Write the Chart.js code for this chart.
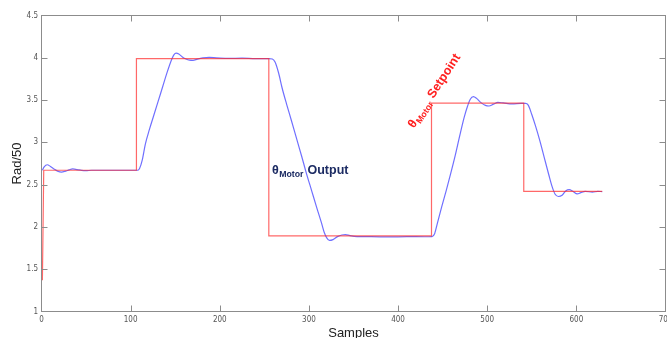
<!DOCTYPE html>
<html>
<head>
<meta charset="utf-8">
<script src="https://cdn.jsdelivr.net/npm/chart.js@4"></script>
<style>
  html, body { margin: 0; padding: 0; background: #fff; }
</style>
</head>
<body>
<canvas id="grafico" width="667" height="338"></canvas>
<script>
// setpoint (red, step signal)
const setpointX = [1, 2.5, 106.5, 106.5, 255, 255, 437.5, 437.5, 541, 541, 629];
const setpointY = [1.37, 2.67, 2.67, 3.99, 3.99, 1.895, 1.895, 3.465, 3.465, 2.42, 2.42];

// motor output (blue)
const outputX = [1, 3, 6.5, 10, 14, 18, 22.5, 27, 31, 35, 40, 45, 50, 56, 70, 90, 108,
  110, 113, 116.5, 121, 126, 131, 136, 141, 146, 148.5, 151, 154, 158, 162, 166, 170, 175,
  181, 188, 196, 210, 225, 240, 255, 259, 262, 266, 270, 275, 280, 286, 292, 297, 303, 309,
  314, 317, 320, 323, 327, 332, 337, 341, 346, 354, 370, 390, 410, 430, 438, 441, 444, 449,
  454, 459, 464, 469, 474, 478, 481, 484.5, 488, 493, 498, 502, 507, 512, 518, 528, 538, 543,
  546, 550, 554, 559, 564, 569, 573, 576, 580, 584, 588, 592, 596, 601, 605, 610, 618, 624, 629];
const outputY = [2.67, 2.71, 2.735, 2.715, 2.685, 2.66, 2.648, 2.66, 2.675, 2.686, 2.678, 2.668, 2.665, 2.67, 2.67, 2.67, 2.67,
  2.69, 2.79, 2.98, 3.15, 3.32, 3.49, 3.66, 3.83, 3.98, 4.035, 4.055, 4.045, 4.01, 3.985, 3.972, 3.97, 3.985,
  3.998, 4.005, 4.0, 3.992, 3.995, 3.99, 3.99, 3.985, 3.95, 3.82, 3.64, 3.45, 3.27, 3.05, 2.83, 2.64, 2.43, 2.22,
  2.05, 1.94, 1.87, 1.84, 1.85, 1.885, 1.905, 1.91, 1.897, 1.886, 1.885, 1.882, 1.885, 1.884, 1.886, 1.92, 2.04, 2.24,
  2.43, 2.63, 2.84, 3.07, 3.29, 3.43, 3.51, 3.54, 3.52, 3.47, 3.437, 3.43, 3.452, 3.472, 3.466, 3.455, 3.46, 3.46,
  3.44, 3.33, 3.2, 3.02, 2.82, 2.62, 2.47, 2.39, 2.36, 2.375, 2.425, 2.44, 2.422, 2.39, 2.405, 2.42, 2.412, 2.42, 2.418];

const xTicks = [0, 100, 200, 300, 400, 500, 600, 700];
const yTicks = [1, 1.5, 2, 2.5, 3, 3.5, 4, 4.5];

const tickFont = { family: "'Liberation Sans Narrow', 'DejaVu Sans Condensed', 'Liberation Sans', sans-serif", size: 8 };
const titleFont = { family: "'Liberation Sans', Arial, sans-serif", size: 13 };
const labelFamily = "'Liberation Sans', Arial, sans-serif";

function toPoints(xs, ys) {
  return xs.map((x, i) => ({ x: x, y: ys[i] }));
}

// draws "θ" + subscript "Motor" + a word
function thetaLabel(ctx, word, size) {
  ctx.textBaseline = 'alphabetic';
  ctx.textAlign = 'left';
  ctx.font = 'bold ' + size + 'px ' + labelFamily;
  ctx.fillText('θ', 0, 0);
  let w = ctx.measureText('θ').width;
  ctx.font = 'bold ' + (size * 0.7) + 'px ' + labelFamily;
  ctx.fillText('Motor', w + 0.5, 3);
  w += ctx.measureText('Motor').width + 4.5;
  ctx.font = 'bold ' + size + 'px ' + labelFamily;
  ctx.fillText(word, w, 0);
}

const frame = {
  id: 'frame',
  afterDatasetsDraw(chart) {
    const { ctx, chartArea: a, scales: { x, y } } = chart;
    ctx.save();
    ctx.strokeStyle = '#8c8c8c';
    ctx.lineWidth = 1;
    ctx.strokeRect(a.left, a.top, a.right - a.left, a.bottom - a.top);
    const len = 6;
    ctx.beginPath();
    xTicks.slice(1, -1).forEach(v => {
      const px = Math.round(x.getPixelForValue(v)) + 0.5;
      ctx.moveTo(px, a.bottom); ctx.lineTo(px, a.bottom - len);
      ctx.moveTo(px, a.top); ctx.lineTo(px, a.top + len);
    });
    yTicks.slice(1, -1).forEach(v => {
      const py = Math.round(y.getPixelForValue(v)) + 0.5;
      ctx.moveTo(a.left, py); ctx.lineTo(a.left + len, py);
      ctx.moveTo(a.right, py); ctx.lineTo(a.right - len, py);
    });
    ctx.stroke();

    // annotations
    ctx.fillStyle = '#1c2b63';
    ctx.save();
    ctx.translate(x.getPixelForValue(258.5), y.getPixelForValue(2.625));
    thetaLabel(ctx, 'Output', 12.5);
    ctx.restore();

    ctx.fillStyle = '#ff2020';
    ctx.save();
    ctx.translate(x.getPixelForValue(418), y.getPixelForValue(3.16));
    ctx.rotate(-57 * Math.PI / 180);
    thetaLabel(ctx, 'Setpoint', 12.5);
    ctx.restore();
    ctx.restore();
  }
};

new Chart(document.getElementById('grafico'), {
  type: 'line',
  data: {
    datasets: [
      {
        label: 'Setpoint',
        data: toPoints(setpointX, setpointY),
        borderColor: 'rgba(255, 40, 40, 0.7)',
        borderWidth: 1.2,
        tension: 0
      },
      {
        label: 'Output',
        data: toPoints(outputX, outputY),
        borderColor: 'rgba(70, 70, 255, 0.78)',
        borderWidth: 1.2,
        cubicInterpolationMode: 'monotone'
      }
    ]
  },
  options: {
    responsive: false,
    animation: false,
    layout: { padding: { top: 15.5, right: 1.5, left: 0, bottom: 0 } },
    elements: { point: { radius: 0 } },
    plugins: { legend: { display: false }, tooltip: { enabled: false } },
    scales: {
      x: {
        type: 'linear',
        min: 0,
        max: 700,
        afterBuildTicks: s => { s.ticks = xTicks.map(v => ({ value: v })); },
        grid: { display: false, drawTicks: false },
        border: { display: false },
        ticks: { padding: 4, font: tickFont, color: '#555', maxRotation: 0, autoSkip: false, callback: v => String(v) },
        title: { display: true, text: 'Samples', font: titleFont, color: '#222', padding: { top: 0, bottom: -3.5 } },
        afterFit: s => { s.height = 26.5; s.paddingLeft = 0; s.paddingRight = 0; }
      },
      y: {
        min: 1,
        max: 4.5,
        afterBuildTicks: s => { s.ticks = yTicks.map(v => ({ value: v })); },
        grid: { display: false, drawTicks: false },
        border: { display: false },
        ticks: { padding: 3.5, font: tickFont, color: '#555', autoSkip: false, callback: v => String(v) },
        title: { display: true, text: 'Rad/50', font: titleFont, color: '#222', padding: { top: 10, bottom: 0 } },
        afterFit: s => { s.width = 41.5; s.paddingTop = 0; s.paddingBottom = 0; }
      }
    }
  },
  plugins: [frame]
});
</script>
</body>
</html>
